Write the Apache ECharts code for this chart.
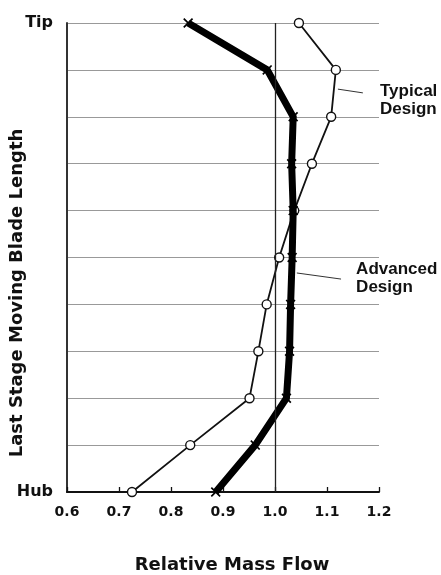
<!DOCTYPE html>
<html>
<head>
<meta charset="utf-8">
<script src="https://cdn.jsdelivr.net/npm/echarts@6/dist/echarts.min.js"></script>
<style>
  html, body { margin: 0; padding: 0; background: #fff; }
  #chart { width: 441px; height: 575px; }
</style>
</head>
<body>
<div id="chart"></div>
<script>
// Span positions along the blade, 0 = hub, 10 = tip
const spanLevels = [0, 1, 2, 3, 4, 5, 6, 7, 8, 9, 10];
// Relative mass flow at each span position
const typicalDesign  = [0.725, 0.837, 0.951, 0.968, 0.984, 1.008, 1.037, 1.071, 1.108, 1.117, 1.046];
const advancedDesign = [0.886, 0.962, 1.022, 1.028, 1.030, 1.033, 1.035, 1.032, 1.035, 0.985, 0.833];
// Axis tick labels
const xTicks = [0.6, 0.7, 0.8, 0.9, 1.0, 1.1, 1.2];
const spanLabels = { 0: 'Hub', 10: 'Tip' };

const FONT = '"DejaVu Sans", "Liberation Sans", Arial, sans-serif';
const NOTE_FONT = '"Liberation Sans", Arial, Helvetica, sans-serif';
const crossSymbol = 'path://M0,1.2L1.2,0L5,3.8L8.8,0L10,1.2L6.2,5L10,8.8L8.8,10L5,6.2L1.2,10L0,8.8L3.8,5Z';

const chart = echarts.init(document.getElementById('chart'), null, { renderer: 'canvas' });

const option = {
  animation: false,
  backgroundColor: '#fff',
  grid: { left: 67, right: 62, top: 23, bottom: 83, containLabel: false },
  xAxis: {
    type: 'value',
    min: xTicks[0],
    max: xTicks[xTicks.length - 1],
    interval: 0.1,
    axisLine: { show: true, lineStyle: { color: '#111', width: 2 } },
    axisTick: { show: true, inside: true, length: 5, lineStyle: { color: '#111', width: 1.3 } },
    axisLabel: {
      margin: 13,
      color: '#111',
      fontFamily: FONT,
      fontWeight: 'bold',
      fontSize: 14,
      formatter: v => v.toFixed(1)
    },
    splitLine: { show: false }
  },
  yAxis: {
    type: 'value',
    min: spanLevels[0],
    max: spanLevels[spanLevels.length - 1],
    interval: 1,
    axisLine: { show: true, lineStyle: { color: '#333', width: 2 } },
    axisTick: { show: false },
    axisLabel: {
      margin: 14,
      color: '#111',
      fontFamily: FONT,
      fontWeight: 'bold',
      fontSize: 16,
      formatter: v => spanLabels[v] || ''
    },
    splitLine: { show: true, lineStyle: { color: '#999', width: 1 } }
  },
  series: [
    {
      name: 'Typical Design',
      type: 'line',
      data: typicalDesign.map((x, i) => [x, spanLevels[i]]),
      lineStyle: { color: '#111', width: 1.8 },
      symbol: 'circle',
      symbolSize: 9,
      itemStyle: { color: '#fff', borderColor: '#111', borderWidth: 1.4 },
      z: 3,
      markLine: {
        silent: true,
        symbol: 'none',
        label: { show: false },
        lineStyle: { color: '#222', width: 1.3, type: 'solid' },
        data: [{ xAxis: 1.0 }]
      }
    },
    {
      name: 'Advanced Design',
      type: 'line',
      data: advancedDesign.map((x, i) => [x, spanLevels[i]]),
      lineStyle: { color: '#000', width: 7, join: 'miter' },
      symbol: crossSymbol,
      symbolSize: 10,
      itemStyle: { color: '#000' },
      z: 4
    },
    {
      // leader lines from the labels to their curves
      type: 'lines',
      coordinateSystem: 'cartesian2d',
      silent: true,
      lineStyle: { color: '#333', width: 1, opacity: 1 },
      data: [
        { coords: [[1.121, 8.59], [1.169, 8.51]] },
        { coords: [[1.042, 4.67], [1.127, 4.54]] }
      ],
      z: 2
    }
  ]
};

chart.setOption(option);

const typLabel = chart.convertToPixel({ gridIndex: 0 }, [1.2, 8.5]);
const advLabel = chart.convertToPixel({ gridIndex: 0 }, [1.156, 4.7]);
const labelStyle = { fill: '#111', font: 'bold 17px ' + NOTE_FONT, lineHeight: 18 };

chart.setOption({
  graphic: [
    { type: 'text', left: typLabel[0] + 1, top: typLabel[1] - 11, style: Object.assign({ text: 'Typical\nDesign' }, labelStyle) },
    { type: 'text', left: advLabel[0], top: advLabel[1] - 11, style: Object.assign({ text: 'Advanced\nDesign' }, labelStyle) },
    {
      type: 'text', x: 17, y: 293, rotation: Math.PI / 2,
      style: { text: 'Last Stage Moving Blade Length', fill: '#111', font: 'bold 18px ' + FONT, textAlign: 'center', textVerticalAlign: 'middle' }
    },
    {
      type: 'text', x: 232, y: 565,
      style: { text: 'Relative Mass Flow', fill: '#111', font: 'bold 18px ' + FONT, textAlign: 'center', textVerticalAlign: 'middle' }
    }
  ]
});
</script>
</body>
</html>
